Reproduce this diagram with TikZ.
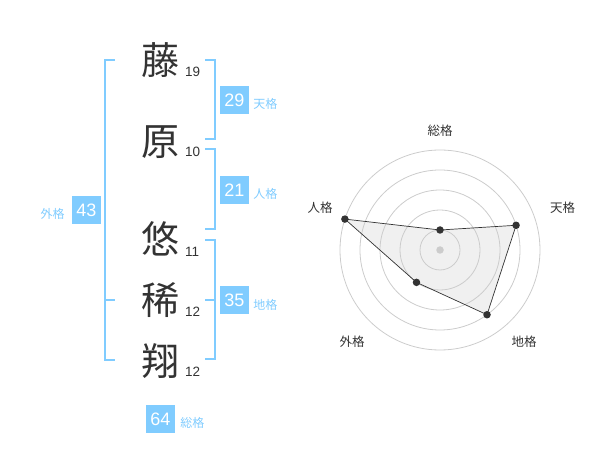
\documentclass[tikz,border=0pt]{standalone}
\usepackage{fontspec}
\setmainfont{Liberation Sans}
\newfontfamily\jp{Noto Sans CJK JP}
\usetikzlibrary{positioning}
\definecolor{kaku}{HTML}{80CCFF}
\definecolor{sumi}{HTML}{333333}
\definecolor{sen}{HTML}{CCCCCC}
\definecolor{nuri}{HTML}{F0F0F0}
\begin{document}
\begin{tikzpicture}[
    x=1pt, y=-1pt,
    kanji/.style={font=\jp\fontsize{38}{40}\selectfont, text=sumi, inner sep=0pt},
    kakusu/.style={font=\fontsize{13.5}{14}\selectfont, text=sumi, inner sep=0pt, anchor=base west},
    kakubox/.style={fill=kaku, text=white, minimum width=29pt, minimum height=28pt, inner sep=0pt, font=\fontsize{18}{18}\selectfont},
    kakuname/.style={font=\jp\fontsize{12}{12}\selectfont, text=kaku, inner sep=0pt},
    bracket/.style={draw=kaku, line width=2pt},
    axisname/.style={font=\jp\fontsize{12.5}{13}\selectfont, text=sumi, inner sep=0pt},
    ring/.style={draw=sen, line width=0.8pt},
    dot/.style={circle, fill=sumi, inner sep=0pt, minimum size=7.5pt}
    ]
    \useasboundingbox (0,0) rectangle (600,470);
    % nome
    \node[kanji] (k1) at (160,60) {藤};
    \node[kanji] (k2) at (160,142) {原};
    \node[kanji] (k3) at (160,239) {悠};
    \node[kanji] (k4) at (160,300) {稀};
    \node[kanji] (k5) at (160,361) {翔};
    \node[kakusu] (s1) at (185,77) {19};
    \node[kakusu] (s2) at (185,157) {10};
    \node[kakusu] (s3) at (185,257) {11};
    \node[kakusu] (s4) at (185,317) {12};
    \node[kakusu] (s5) at (185,377) {12};
    % colchetes
    \draw[bracket] (115,60) -- (105,60) -- (105,360) -- (115,360);
    \draw[bracket] (105,300) -- (115,300);
    \draw[bracket] (205,60) -- (214.5,60) -- (214.5,139.5) -- (205,139.5);
    \draw[bracket] (205,149.5) -- (214.5,149.5) -- (214.5,229.5) -- (205,229.5);
    \draw[bracket] (205,240) -- (214.5,240) -- (214.5,359.5) -- (205,359.5);
    \draw[bracket] (205,300) -- (214.5,300);
    % caixas
    \node[kakubox] (ten) at (234.5,100) {29};
    \node[kakuname, right=4pt of ten, yshift=-4pt] (tenname) {天格};
    \node[kakubox] (jin) at (234.5,190) {21};
    \node[kakuname, right=4pt of jin, yshift=-4pt] (jinname) {人格};
    \node[kakubox] (chi) at (234.5,300.5) {35};
    \node[kakuname, right=4pt of chi, yshift=-4pt] (chiname) {地格};
    \node[kakubox] (gai) at (86.5,210) {43};
    \node[kakuname, left=7pt of gai, yshift=-4pt] (gainame) {外格};
    \node[kakubox] (sou) at (160.5,419) {64};
    \node[kakuname, right=5pt of sou, yshift=-4pt] (souname) {総格};
    % radar
    \begin{scope}[shift={(440,250)}, yscale=-1]
      \coordinate (p1) at (90:20);
      \coordinate (p2) at (18:80);
      \coordinate (p3) at (-54:80);
      \coordinate (p4) at (-126:40);
      \coordinate (p5) at (162:100);
      \fill[nuri] (p1) -- (p2) -- (p3) -- (p4) -- (p5) -- cycle;
      \foreach \r in {20,40,...,100}
        \draw[ring] (0,0) circle (\r);
      \draw[sumi, line width=0.7pt] (p1) -- (p2) -- (p3) -- (p4) -- (p5) -- cycle;
      \node[dot, fill=sen] (o) at (0,0) {};
      \foreach \i in {1,...,5}
        \node[dot] (d\i) at (p\i) {};
      \node[axisname] (a1) at (0,119.5) {総格};
      \node[axisname] (a2) at (122.5,42) {天格};
      \node[axisname] (a3) at (84,-92) {地格};
      \node[axisname] (a4) at (-88,-92) {外格};
      \node[axisname] (a5) at (-120,42) {人格};
    \end{scope}
\end{tikzpicture}
\end{document}
